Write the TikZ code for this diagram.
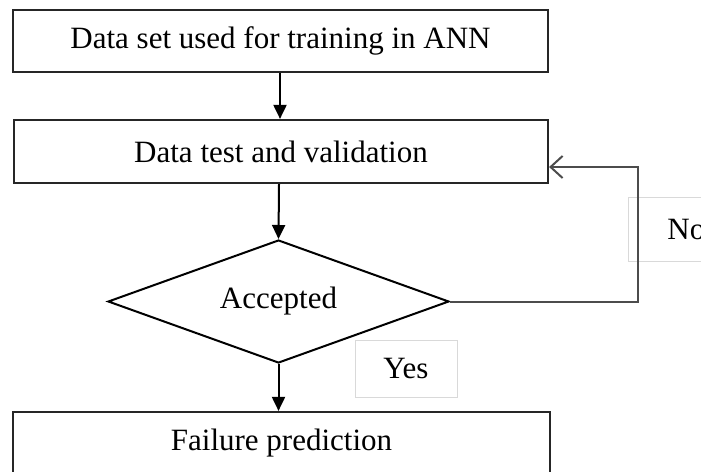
\documentclass[tikz,border=0pt]{standalone}
\usepackage{fontspec}
\setmainfont{Liberation Serif}
\usetikzlibrary{arrows.meta,shapes.geometric}
\begin{document}
\begin{tikzpicture}[x=1pt,y=1pt,
  font=\fontsize{31}{36}\selectfont,
  stepbox/.style={draw=black!85, line width=2.2pt, rectangle, minimum width=535pt, minimum height=62pt, inner sep=0pt},
  decision/.style={draw=black, line width=2pt, diamond, aspect=2.77, minimum width=341pt, minimum height=123pt, inner sep=0pt},
  lbl/.style={draw=black!15, line width=0.8pt, rectangle, inner sep=0pt},
  flow/.style={line width=2pt, -{Triangle[length=14pt,width=13pt]}},
  back/.style={draw=black!70, line width=2pt, -{Straight Barb[length=12pt,width=22pt,line width=2pt]}}]
\useasboundingbox (0,0) rectangle (701,-471);
\node[stepbox] (b1) at (280.5,-41) {Data set used for training in ANN};
\node[stepbox, minimum width=534pt, minimum height=63pt] (b2) at (281,-151.5) {Data test and validation};
\node[decision] (acc) at (278.5,-301.5) {Accepted};
\node[stepbox, minimum width=537pt] (b3) at (281.5,-443) {Failure prediction};
\node[lbl, minimum width=102pt, minimum height=57pt] (yes) at (406,-368.5) {Yes};
\node[lbl, anchor=west, minimum height=64pt, minimum width=140pt, text width=101pt, inner xsep=39pt, align=left] (no) at (628,-229) {No};
\draw[flow] (b1.south -| 280,0) -- (b2.north -| 280,0);
\draw[flow] (b2.south -| 279,0) -- (acc.north);
\draw[flow] (acc.south) -- (b3.north -| acc.south);
\coordinate (c1) at (638,-167);
\draw[back] (acc.east) -| (c1) -- (c1 -| b2.east);
\end{tikzpicture}
\end{document}
